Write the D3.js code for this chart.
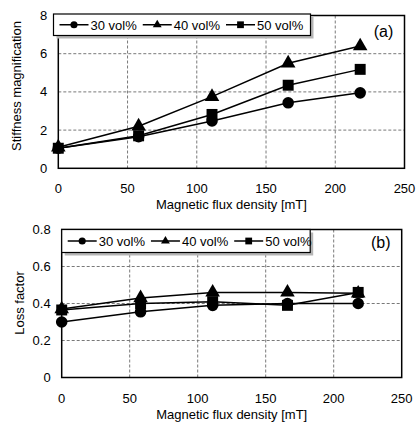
<!DOCTYPE html>
<html lang="en">
<head>
<meta charset="UTF-8">
<script src="https://d3js.org/d3.v7.min.js"></script>
<title>Stiffness and loss factor</title>
<style>
    body { margin: 0; background: white; }
    text { font-family: "Liberation Sans", Arial, sans-serif; fill: #000; }
</style>
</head>
<body>
<script>
    // ---------------- data ----------------
    const fluxDensity = [0, 58, 111, 166, 218];
    const seriesNames = ["30 vol%", "40 vol%", "50 vol%"];
    const seriesShapes = ["circle", "triangle", "square"];

    const stiffness30 = [1.05, 1.65, 2.48, 3.43, 3.95];
    const stiffness40 = [1.10, 2.20, 3.75, 5.50, 6.40];
    const stiffness50 = [1.05, 1.70, 2.82, 4.35, 5.18];

    const loss30 = [0.30, 0.355, 0.39, 0.40, 0.40];
    const loss40 = [0.37, 0.43, 0.46, 0.46, 0.455];
    const loss50 = [0.365, 0.40, 0.41, 0.39, 0.46];

    const xTicks = [0, 50, 100, 150, 200, 250];
    const stiffTicks = [0, 2, 4, 6, 8];
    const stiffTickLabels = ["0", "2", "4", "6", "8"];
    const lossTicks = [0, 0.2, 0.4, 0.6, 0.8];
    const lossTickLabels = ["0", "0.2", "0.4", "0.6", "0.8"];

    // ---------------- svg ----------------
    const svg = d3.select("body").append("svg")
        .attr("width", 418)
        .attr("height", 425);

    const symbolTypes = {
        circle: d3.symbolCircle,
        triangle: d3.symbolTriangle,
        square: d3.symbolSquare
    };
    const plotSizes = { circle: 105, triangle: 92, square: 120 };
    const legendSizes = { circle: 40, triangle: 34, square: 46 };

    function drawPanel(p) {
        const g = svg.append("g");
        const x = d3.scaleLinear().domain([0, 250]).range([p.left, p.right]);
        const y = d3.scaleLinear().domain([0, p.yMax]).range([p.bottom, p.top]);

        // dashed grid
        g.selectAll(".vgrid")
            .data(xTicks.slice(1, -1))
            .enter().append("line")
            .attr("x1", d => x(d)).attr("x2", d => x(d))
            .attr("y1", p.top).attr("y2", p.bottom)
            .attr("stroke", "#6a6a6a").attr("stroke-width", 0.9)
            .attr("stroke-dasharray", "3,2");
        g.selectAll(".hgrid")
            .data(p.yTicks.slice(1, -1))
            .enter().append("line")
            .attr("x1", p.left).attr("x2", p.right)
            .attr("y1", d => y(d)).attr("y2", d => y(d))
            .attr("stroke", "#6a6a6a").attr("stroke-width", 0.9)
            .attr("stroke-dasharray", "3,2");

        // frame
        g.append("rect")
            .attr("x", p.left).attr("y", p.top)
            .attr("width", p.right - p.left).attr("height", p.bottom - p.top)
            .attr("fill", "none").attr("stroke", "#000").attr("stroke-width", 1.5);

        // tick labels
        g.selectAll(".xt")
            .data(xTicks)
            .enter().append("text")
            .attr("x", d => x(d)).attr("y", p.bottom + 25)
            .attr("text-anchor", "middle")
            .style("font-size", "13px")
            .text(d => d);
        g.selectAll(".yt")
            .data(p.yTicks)
            .enter().append("text")
            .attr("x", p.left - 11).attr("y", d => y(d) + 4.5)
            .attr("text-anchor", "end")
            .style("font-size", "13px")
            .text((d, i) => p.yTickLabels[i]);

        // axis titles
        g.append("text")
            .attr("x", (p.left + p.right) / 2).attr("y", p.bottom + 41)
            .attr("text-anchor", "middle")
            .style("font-size", "13px")
            .text("Magnetic flux density [mT]");
        g.append("text")
            .attr("transform", `translate(${p.yTitleX},${p.yTitleY}) rotate(-90)`)
            .attr("text-anchor", "middle")
            .style("font-size", "13px")
            .text(p.yTitle);

        // lines and markers
        const line = d3.line().x((d, i) => x(fluxDensity[i])).y(d => y(d));
        p.series.forEach((s, k) => {
            g.append("path")
                .attr("d", line(s))
                .attr("fill", "none").attr("stroke", "#000").attr("stroke-width", 1.5);
        });
        p.series.forEach((s, k) => {
            const shape = seriesShapes[k];
            g.selectAll(".m" + k)
                .data(s)
                .enter().append("path")
                .attr("transform", (d, i) => `translate(${x(fluxDensity[i])},${y(d)})`)
                .attr("d", d3.symbol().type(symbolTypes[shape]).size(plotSizes[shape]))
                .attr("fill", "#000");
        });

        // legend
        const lg = g.append("g");
        lg.append("rect")
            .attr("x", p.legX + 3).attr("y", p.legY + 3)
            .attr("width", p.legW).attr("height", p.legH)
            .attr("fill", "#b5b5b5");
        lg.append("rect")
            .attr("x", p.legX).attr("y", p.legY)
            .attr("width", p.legW).attr("height", p.legH)
            .attr("fill", "#fff").attr("stroke", "#000").attr("stroke-width", 1.2);
        let cx = p.legX + 6;
        const cy = p.legY + p.legH / 2;
        seriesNames.forEach((name, k) => {
            const shape = seriesShapes[k];
            lg.append("line")
                .attr("x1", cx).attr("x2", cx + 29)
                .attr("y1", cy).attr("y2", cy)
                .attr("stroke", "#000").attr("stroke-width", 1.5);
            lg.append("path")
                .attr("transform", `translate(${cx + 14.5},${cy})`)
                .attr("d", d3.symbol().type(symbolTypes[shape]).size(legendSizes[shape]))
                .attr("fill", "#000");
            const t = lg.append("text")
                .attr("x", cx + 31).attr("y", cy + 5)
                .style("font-size", "13px")
                .text(name);
            cx += 31 + t.node().getComputedTextLength() + 6;
        });

        // panel label
        g.append("text")
            .attr("x", p.right - 21).attr("y", p.labelY)
            .attr("text-anchor", "middle")
            .style("font-size", "16px")
            .text(p.label);
    }

    drawPanel({
        left: 58.3, right: 404.5, top: 15.5, bottom: 168.3,
        yMax: 8, yTicks: stiffTicks, yTickLabels: stiffTickLabels,
        yTitle: "Stiffness magnification", yTitleX: 21, yTitleY: 86,
        series: [stiffness30, stiffness40, stiffness50],
        legX: 53.5, legY: 14, legW: 257, legH: 21.5,
        label: "(a)", labelY: 37
    });

    drawPanel({
        left: 61.7, right: 401.7, top: 229.5, bottom: 377.5,
        yMax: 0.8, yTicks: lossTicks, yTickLabels: lossTickLabels,
        yTitle: "Loss factor", yTitleX: 24, yTitleY: 303,
        series: [loss30, loss40, loss50],
        legX: 61.7, legY: 229.5, legW: 248.5, legH: 23,
        label: "(b)", labelY: 248
    });
</script>
</body>
</html>
